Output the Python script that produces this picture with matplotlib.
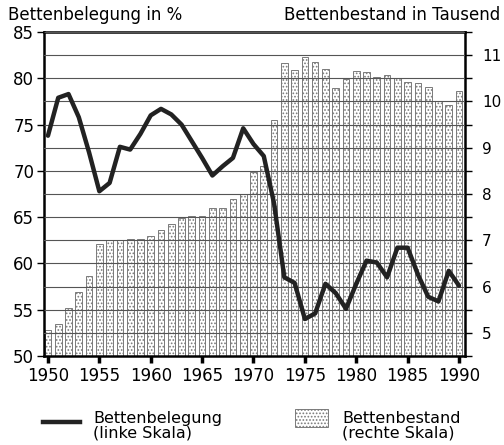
import matplotlib.pyplot as plt
import numpy as np

plt.rcParams['font.family'] = ['DejaVu Sans']
plt.rcParams['hatch.linewidth'] = 0.8

# Jahre 1950-1990
jahre = list(range(1950, 1991))

# Bettenbestand in Tausend (rechte Skala)
bettenbestand = [5.06, 5.19, 5.54, 5.89, 6.22, 6.91, 7.01, 7.01, 7.02, 7.03,
                 7.09, 7.22, 7.35, 7.48, 7.53, 7.53, 7.70, 7.70, 7.90, 8.01,
                 8.48, 8.60, 9.60, 10.84, 10.67, 10.95, 10.86, 10.71, 10.29, 10.48,
                 10.65, 10.63, 10.52, 10.57, 10.51, 10.42, 10.40, 10.32, 10.01, 9.92,
                 10.22]

# Bettenbelegung in % (linke Skala)
bettenbelegung = [73.8, 77.9, 78.3, 75.8, 72.0, 67.8, 68.7, 72.6, 72.3, 74.0,
                  76.0, 76.7, 76.1, 75.0, 73.2, 71.4, 69.5, 70.5, 71.4, 74.6,
                  72.9, 71.6, 66.5, 58.5, 57.9, 54.0, 54.6, 57.8, 56.8, 55.1,
                  57.8, 60.3, 60.1, 58.5, 61.7, 61.7, 58.8, 56.4, 55.9, 59.2,
                  57.6]

x_ticks = list(range(1950, 1991, 5))

fig = plt.figure(figsize=(5.04, 4.45), dpi=100)
ax1 = fig.add_axes([0.087, 0.20, 0.836, 0.728])
ax2 = ax1.twinx()  # fuer die Linie (linke Skala), wird ueber ax1 gezeichnet

# Balken (rechte Skala) auf ax1, Gitter darueber
ax1.bar(jahre, bettenbestand, width=0.65, color='white', edgecolor='#7a7a7a',
        linewidth=0.7, hatch='.....', zorder=1)
ax1.set_ylim(4.5, 11.5)
ax1.set_xlim(1949.6, 1990.6)
ax1.yaxis.tick_right()
ax1.set_yticks(range(5, 12))
ax1.set_yticks(np.arange(4.5, 11.6, 0.5), minor=True)
ax1.tick_params(axis='y', which='both', direction='out', length=5, width=1,
                right=True, left=False, labelright=True, labelleft=False,
                labelsize=11, pad=7)
ax1.tick_params(axis='y', which='minor', labelright=False)
ax1.grid(axis='y', which='both', color='#555555', linewidth=0.8)
ax1.set_axisbelow(False)
for sp in ax1.spines.values():
    sp.set_linewidth(1.8)

ax1.set_xticks(x_ticks)
ax1.tick_params(axis='x', direction='out', length=5, width=2.5, labelsize=12, pad=3)

# Linie (linke Skala)
ax2.plot(jahre, bettenbelegung, color='#222222', linewidth=3.2,
         solid_joinstyle='round', solid_capstyle='round')
ax2.set_ylim(50, 85)
ax2.yaxis.tick_left()
ax2.set_yticks(range(50, 86, 5))
ax2.tick_params(axis='y', direction='out', length=5, width=1, labelsize=12,
                left=True, right=False, labelleft=True, labelright=False, pad=2)
for sp in ax2.spines.values():
    sp.set_visible(False)

fig.text(0.016, 0.966, 'Bettenbelegung in %', fontsize=12, ha='left', va='center')
fig.text(0.992, 0.966, 'Bettenbestand in Tausend', fontsize=12, ha='right', va='center')

# Legende
fig.add_artist(plt.Line2D([0.085, 0.159], [0.052, 0.052], color='#222222',
                          linewidth=3.2, transform=fig.transFigure))
fig.text(0.185, 0.043, 'Bettenbelegung\n(linke Skala)', fontsize=11.5,
         ha='left', va='center', linespacing=0.95)
fig.add_artist(plt.Rectangle((0.585, 0.040), 0.065, 0.041, facecolor='white',
                             edgecolor='#7a7a7a', linewidth=0.7, hatch='.....',
                             transform=fig.transFigure))
fig.text(0.679, 0.043, 'Bettenbestand\n(rechte Skala)', fontsize=11.5,
         ha='left', va='center', linespacing=0.95)

fig.savefig('out.png', dpi=100)
